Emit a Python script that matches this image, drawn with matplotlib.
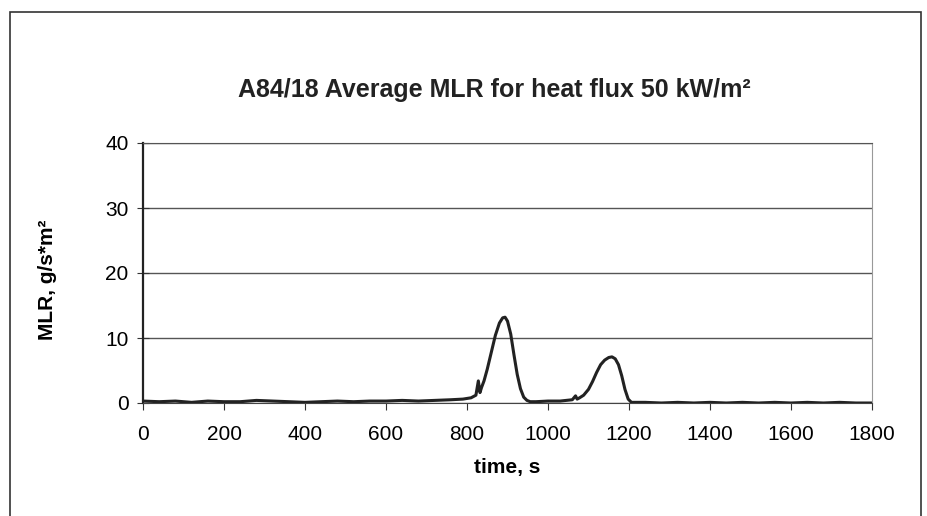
import matplotlib
matplotlib.use("Agg")
import matplotlib.pyplot as plt
from matplotlib.patches import Rectangle

# Data (time in s, MLR in g/s*m2)
time_s = [0, 40, 80, 120, 160, 200, 240, 280, 320, 360, 400, 440, 480, 520, 560,
          600, 640, 680, 720, 760, 790, 810, 822, 828, 832, 836, 842, 850, 860,
          870, 880, 888, 894, 900, 908, 916, 924, 932, 940, 948, 956, 970, 1000,
          1030, 1060, 1068, 1072, 1078, 1088, 1100, 1110, 1120, 1130, 1140, 1150,
          1158, 1166, 1174, 1182, 1190, 1198, 1206, 1240, 1280, 1320, 1360, 1400,
          1440, 1480, 1520, 1560, 1600, 1640, 1680, 1720, 1760, 1800]
mlr = [0.3, 0.2, 0.3, 0.1, 0.3, 0.2, 0.2, 0.4, 0.3, 0.2, 0.1, 0.2, 0.3, 0.2, 0.3,
       0.3, 0.4, 0.3, 0.4, 0.5, 0.6, 0.8, 1.2, 3.4, 1.6, 2.4, 3.4, 5.2, 7.8,
       10.4, 12.3, 13.1, 13.2, 12.6, 10.6, 7.4, 4.4, 2.2, 0.9, 0.4, 0.2, 0.2, 0.3,
       0.3, 0.5, 1.1, 0.6, 0.8, 1.2, 2.1, 3.3, 4.7, 5.9, 6.6, 7.0,
       7.1, 6.8, 5.9, 4.2, 2.1, 0.6, 0.1, 0.1, 0.0, 0.1, 0.0, 0.1,
       0.0, 0.1, 0.0, 0.1, 0.0, 0.1, 0.0, 0.1, 0.0, 0.0]

x_ticks = [0, 200, 400, 600, 800, 1000, 1200, 1400, 1600, 1800]
y_ticks = [0, 10, 20, 30, 40]

plt.rcParams['font.family'] = ['Liberation Sans', 'DejaVu Sans']

fig = plt.figure(figsize=(9.28, 5.16), dpi=100)
ax = fig.add_axes([143/928, 1 - 403/516, (872 - 143)/928, 260/516])

# outer chart border
fig.patches.append(Rectangle((10/928, -0.1), (921 - 10)/928, 1.1 - 12/516,
                             transform=fig.transFigure, fill=False,
                             edgecolor='#333333', linewidth=1.2))

ax.plot(time_s, mlr, color='#222222', linewidth=2.2)

ax.set_xlim(0, 1800)
ax.set_ylim(0, 40)
ax.set_xticks(x_ticks)
ax.set_yticks(y_ticks)
ax.tick_params(axis='both', labelsize=15, color='#333333')
ax.tick_params(axis='x', length=5, pad=11)
ax.tick_params(axis='y', direction='inout', length=9, pad=6)
ax.yaxis.grid(True, color='#555555', linewidth=1.0)
ax.set_axisbelow(True)

ax.spines['left'].set_color('#222222')
ax.spines['left'].set_linewidth(1.6)
ax.spines['bottom'].set_color('#444444')
ax.spines['right'].set_color('#999999')
ax.spines['top'].set_color('#555555')

fig.text(494/928, 1 - 97/516, 'A84/18 Average MLR for heat flux 50 kW/m²',
         fontsize=18, fontweight='bold', ha='center', va='baseline', color='#222222')
ax.set_xlabel('time, s', fontsize=15, fontweight='bold', labelpad=10)
ax.set_ylabel('MLR, g/s*m²', fontsize=15, fontweight='bold')
ax.yaxis.set_label_coords(-0.118, 0.473)

plt.savefig('out.png', dpi=100)
